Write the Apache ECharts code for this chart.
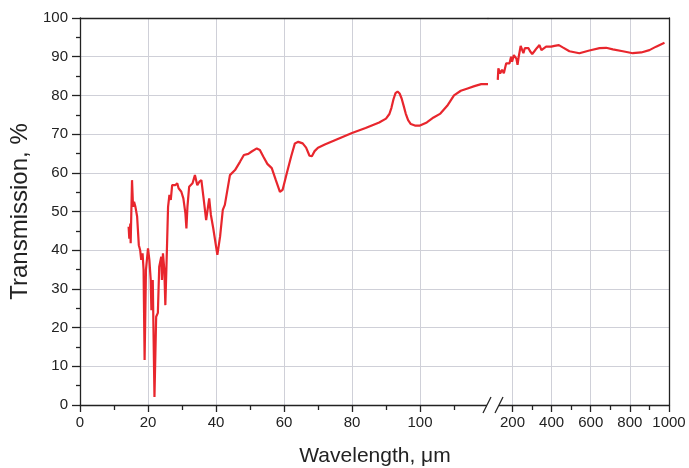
<!DOCTYPE html>
<html>
<head>
<meta charset="utf-8">
<script src="https://cdn.jsdelivr.net/npm/echarts@6/dist/echarts.min.js"></script>
<style>
html, body { margin: 0; padding: 0; background: #fff; }
#chart { width: 689px; height: 468px; }
</style>
</head>
<body>
<div id="chart"></div>
<script>
// spectrum, part before the axis break (um)
var wl1 = [14.3, 14.5, 14.8, 14.9, 15.3, 15.6, 15.9, 16.3, 16.8, 17.3, 17.7, 18.0, 18.4, 18.7, 19.0, 19.4,
    20.0, 20.4, 20.8, 21.0, 21.4, 21.9, 22.4, 22.9, 23.3, 23.9, 24.1, 24.4, 24.8, 25.1, 25.4, 25.9,
    26.3, 26.7, 27.1, 27.6, 28.0, 28.6, 29.0, 29.8, 30.4, 31.0, 31.3, 31.6, 32.1, 33.1, 33.8, 34.5,
    35.1, 35.7, 36.3, 37.1, 37.4, 38.0, 38.5, 39.2, 40.4, 41.2, 42.0, 42.6, 44.1, 45.6, 47.1, 48.2,
    49.5, 50.5, 52.0, 52.9, 53.9, 55.1, 56.4, 57.6, 58.8, 59.6, 60.8, 62.1, 63.2, 64.2, 65.5, 66.5,
    67.5, 68.2, 69.0, 70.0, 72.0, 76.0, 80.0, 84.0, 88.0, 90.0, 91.0, 91.6, 92.2, 92.8, 93.4, 94.0,
    94.6, 95.2, 95.8, 96.5, 97.3, 98.5, 100.0, 102.0, 104.0, 106.0, 108.0, 110.0, 112.0, 114.0,
    116.0, 118.0, 120.0];
var tr1 = [46.1, 43.0, 46.9, 41.8, 58.1, 51.2, 52.5, 51.2, 48.7, 41.3, 40.0, 37.5, 39.2, 34.9, 11.6, 34.9,
    40.5, 37.5, 32.3, 24.5, 32.3, 2.1, 22.8, 23.8, 35.7, 38.3, 32.3, 39.2, 34.9, 25.8, 34.9, 51.2,
    54.3, 53.0, 56.8, 57.3, 56.8, 57.3, 56.0, 55.1, 53.4, 49.5, 45.6, 51.2, 56.4, 57.3, 59.4, 56.8,
    57.7, 58.1, 53.8, 47.8, 48.2, 53.4, 49.1, 45.6, 38.8, 43.5, 50.4, 51.7, 59.4, 60.7, 62.9, 64.6,
    64.9, 65.5, 66.3, 65.9, 64.2, 62.3, 61.2, 58.1, 55.1, 55.6, 59.8, 64.2, 67.6, 68.0, 67.6, 66.5,
    64.4, 64.3, 65.6, 66.5, 67.3, 68.8, 70.3, 71.6, 73.0, 74.0, 75.2, 76.8, 79.0, 80.6, 81.0, 80.5,
    79.2, 77.3, 75.3, 73.6, 72.6, 72.2, 72.2, 73.0, 74.3, 75.3, 77.3, 80.0, 81.2, 81.8,
    82.4, 82.9, 82.9];

// part after the break
var wl2 = [125, 128, 137, 147, 156, 168, 178, 185, 193, 198, 207, 220, 226, 232, 242, 250, 256, 263,
    273, 282, 290, 301, 312, 324, 338, 348, 358, 372, 398, 415, 437, 457, 491, 542, 593, 645, 679,
    713, 764, 815, 858, 900, 934, 977];
var tr2 = [84.0, 87.0, 85.7, 86.6, 85.7, 88.3, 88.7, 88.3, 90.0, 88.7, 90.4, 89.5, 87.9, 90.0, 92.8, 91.7,
    90.9, 92.2, 91.7, 92.2, 91.4, 90.7, 91.4, 92.2, 93.0, 91.7, 92.2, 92.6, 92.6, 92.8, 93.0, 92.4,
    91.4, 90.9, 91.6, 92.2, 92.3, 91.9, 91.4, 90.9, 91.1, 91.7, 92.6, 93.6];

var leftTicks = [0, 20, 40, 60, 80, 100];
var leftMinor = [10, 30, 50, 70, 90, 110];
var rightTicks = [200, 400, 600, 800, 1000];
var rightMinor = [300, 500, 700, 900];

var txt = '#222';
var font = 'Liberation Sans, Arial, sans-serif';
var gridColor = '#cfd0d8';
var red = '#e8262d';

var data1 = [];
for (var i = 0; i < wl1.length; i++) {
    data1.push([wl1[i], tr1[i]]);
}
var data2 = [];
for (var j = 0; j < wl2.length; j++) {
    data2.push([wl2[j], tr2[j]]);
}

// main x axis with labels + grid lines
function mainX(grid, min, max, ticks) {
    return {
        type: 'value', gridIndex: grid, min: min, max: max, position: 'bottom',
        axisLine: { show: true, lineStyle: { color: txt, width: 1.3 } },
        axisTick: { show: true, inside: false, length: 7, customValues: ticks, lineStyle: { color: txt, width: 1.3 } },
        axisLabel: {
            customValues: ticks, color: txt, fontSize: 15, fontFamily: font, margin: 10,
            formatter: function (v) { return String(v); }
        },
        splitLine: { show: true, lineStyle: { color: gridColor, width: 1 } }
    };
}
// extra axis only for the short minor ticks
function minorX(grid, min, max, ticks) {
    return {
        type: 'value', gridIndex: grid, min: min, max: max, position: 'bottom',
        axisLine: { show: false },
        axisTick: { show: true, inside: false, length: 5, customValues: ticks, lineStyle: { color: txt, width: 1.3 } },
        axisLabel: { show: false },
        splitLine: { show: false }
    };
}
// top frame line
function topX(grid, min, max) {
    return {
        type: 'value', gridIndex: grid, min: min, max: max, position: 'top',
        axisLine: { show: true, onZero: false, lineStyle: { color: txt, width: 1.3 } },
        axisTick: { show: false }, axisLabel: { show: false }, splitLine: { show: false }
    };
}

var myChart = echarts.init(document.getElementById('chart'));

var option = {
    animation: false,
    backgroundColor: '#fff',
    grid: [
        { left: 80, top: 18, width: 408, height: 387 },
        { left: 488, top: 18, width: 181, height: 387 }
    ],
    xAxis: [
        mainX(0, 0, 120, leftTicks),
        minorX(0, 0, 120, leftMinor),
        topX(0, 0, 120),
        mainX(1, 75, 1000, rightTicks),
        minorX(1, 75, 1000, rightMinor),
        topX(1, 75, 1000)
    ],
    yAxis: [
        {
            type: 'value', gridIndex: 0, min: 0, max: 100, interval: 10, position: 'left',
            name: 'Transmission, %', nameLocation: 'middle', nameGap: 44, nameRotate: 90,
            nameTextStyle: { color: txt, fontSize: 24, fontFamily: font },
            axisLine: { show: true, lineStyle: { color: txt, width: 1.3 } },
            axisTick: { show: true, inside: false, length: 8, lineStyle: { color: txt, width: 1.3 } },
            minorTick: { show: true, splitNumber: 2, length: 4, lineStyle: { color: txt, width: 1.3 } },
            axisLabel: { color: txt, fontSize: 15, fontFamily: font, margin: 12 },
            splitLine: { show: true, lineStyle: { color: gridColor, width: 1 } }
        },
        {
            type: 'value', gridIndex: 1, min: 0, max: 100, interval: 10, position: 'right',
            axisLine: { show: true, lineStyle: { color: txt, width: 1.3 } },
            axisTick: { show: false }, axisLabel: { show: false },
            splitLine: { show: true, lineStyle: { color: gridColor, width: 1 } }
        }
    ],
    graphic: [
        // axis break
        { type: 'rect', shape: { x: 487, y: 402, width: 12, height: 6 }, style: { fill: '#fff' }, z: 100 },
        { type: 'line', shape: { x1: 483, y1: 413, x2: 491, y2: 397 }, style: { stroke: txt, lineWidth: 1.3 }, z: 101 },
        { type: 'line', shape: { x1: 495, y1: 413, x2: 503, y2: 397 }, style: { stroke: txt, lineWidth: 1.3 }, z: 101 },
        {
            type: 'text', x: 375, y: 456, z: 100,
            style: { text: 'Wavelength, μm', fill: txt, fontSize: 21, fontFamily: font, textAlign: 'center', textVerticalAlign: 'middle' }
        }
    ],
    series: [
        {
            type: 'line', xAxisIndex: 0, yAxisIndex: 0, data: data1,
            showSymbol: false, lineStyle: { color: red, width: 2.2 }
        },
        {
            type: 'line', xAxisIndex: 3, yAxisIndex: 1, data: data2,
            showSymbol: false, lineStyle: { color: red, width: 2.2 }
        }
    ]
};

myChart.setOption(option);
</script>
</body>
</html>
